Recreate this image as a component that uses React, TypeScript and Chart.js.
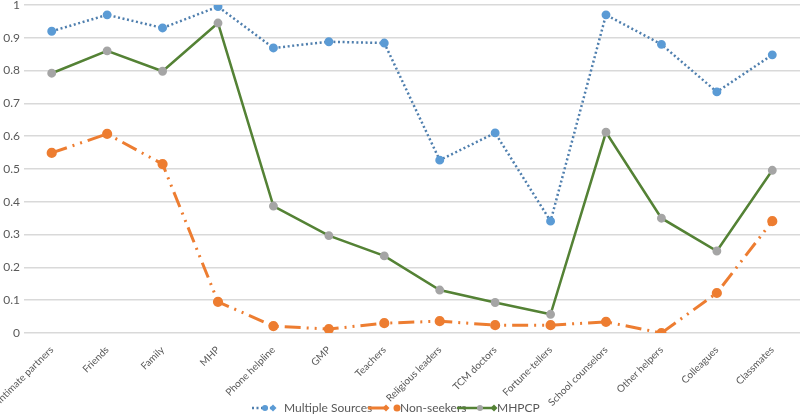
import React, { useEffect, useRef } from "react";
import { Chart, registerables } from "chart.js";

Chart.register(...registerables);

const categories = [
  "Intimate partners", "Friends", "Family", "MHP", "Phone helpline", "GMP", "Teachers",
  "Religious leaders", "TCM doctors", "Fortune-tellers", "School counselors", "Other helpers",
  "Colleagues", "Classmates",
];
const multipleSources = [0.92, 0.97, 0.93, 0.995, 0.869, 0.888, 0.884, 0.527, 0.61, 0.341, 0.97, 0.88, 0.735, 0.848];
const nonSeekers = [0.549, 0.607, 0.515, 0.095, 0.021, 0.012, 0.03, 0.036, 0.024, 0.024, 0.034, 0.0, 0.122, 0.341];
const mhpcp = [0.792, 0.86, 0.798, 0.945, 0.387, 0.297, 0.235, 0.131, 0.093, 0.057, 0.612, 0.35, 0.25, 0.496];
const yTicks = [0, 0.1, 0.2, 0.3, 0.4, 0.5, 0.6, 0.7, 0.8, 0.9, 1];

const BLUE_LINE = "#4f7fae";
const BLUE_PT = "#5b9bd5";
const ORANGE = "#ed7d31";
const GREEN = "#548235";
const GRAY_PT = "#a5a5a5";
const TEXT = "#595959";
const FONT = "Lato, 'Open Sans', sans-serif";

function diamond(ctx: CanvasRenderingContext2D, x: number, y: number, r: number, color: string) {
  ctx.save();
  ctx.fillStyle = color;
  ctx.beginPath();
  ctx.moveTo(x + r, y);
  ctx.lineTo(x, y - r);
  ctx.lineTo(x - r, y);
  ctx.lineTo(x, y + r);
  ctx.closePath();
  ctx.fill();
  ctx.restore();
}
function dot(ctx: CanvasRenderingContext2D, x: number, y: number, r: number, color: string) {
  ctx.save();
  ctx.fillStyle = color;
  ctx.beginPath();
  ctx.arc(x, y, r, 0, Math.PI * 2);
  ctx.fill();
  ctx.restore();
}

const legendPlugin = {
  id: "customLegend",
  afterDraw(chart: any) {
    const ctx: CanvasRenderingContext2D = chart.ctx;
    const y = 408;
    ctx.save();
    ctx.font = `12px ${FONT}`;
    ctx.textBaseline = "middle";
    ctx.fillStyle = TEXT;
    ctx.strokeStyle = BLUE_LINE;
    ctx.lineWidth = 2.5;
    ctx.setLineDash([2, 2.5]);
    ctx.beginPath();
    ctx.moveTo(252, y);
    ctx.lineTo(272, y);
    ctx.stroke();
    ctx.setLineDash([]);
    dot(ctx, 265, y, 3, BLUE_PT);
    diamond(ctx, 273, y, 3.5, BLUE_PT);
    ctx.fillStyle = TEXT;
    ctx.fillText("Multiple Sources", 284, y);
    ctx.strokeStyle = ORANGE;
    ctx.lineWidth = 3;
    ctx.beginPath();
    ctx.moveTo(368, y);
    ctx.lineTo(386, y);
    ctx.stroke();
    diamond(ctx, 386, y, 3.5, ORANGE);
    dot(ctx, 397, y, 3.5, ORANGE);
    ctx.fillStyle = TEXT;
    ctx.fillText("Non-seekers", 400, y);
    ctx.strokeStyle = GREEN;
    ctx.lineWidth = 2.5;
    ctx.beginPath();
    ctx.moveTo(457, y);
    ctx.lineTo(494, y);
    ctx.stroke();
    dot(ctx, 480, y, 3, GRAY_PT);
    diamond(ctx, 494, y, 3.5, GREEN);
    ctx.fillStyle = TEXT;
    ctx.fillText("MHPCP", 497, y);
    ctx.restore();
  },
};

export default function App() {
  const ref = useRef<HTMLCanvasElement | null>(null);
  useEffect(() => {
    document.body.style.margin = "0";
    const canvas = ref.current!;
    const chart = new Chart(canvas, {
      type: "line",
      data: {
        labels: categories,
        datasets: [
          {
            label: "Multiple Sources",
            data: multipleSources,
            borderColor: BLUE_LINE,
            borderWidth: 2.5,
            borderDash: [2, 2.6],
            pointBackgroundColor: BLUE_PT,
            pointBorderColor: BLUE_PT,
            pointRadius: 3.2,
            tension: 0,
          },
          {
            label: "Non-seekers",
            data: nonSeekers,
            borderColor: ORANGE,
            borderWidth: 3,
            borderDash: [16, 6, 2, 6, 2, 6],
            pointBackgroundColor: ORANGE,
            pointBorderColor: ORANGE,
            pointRadius: 3.6,
            tension: 0,
          },
          {
            label: "MHPCP",
            data: mhpcp,
            borderColor: GREEN,
            borderWidth: 2.5,
            pointBackgroundColor: GRAY_PT,
            pointBorderColor: GRAY_PT,
            pointRadius: 3.2,
            tension: 0,
          },
        ],
      },
      options: {
        animation: false,
        responsive: false,
        layout: { autoPadding: false, padding: { top: 5, left: 0, right: 0, bottom: 0 } },
        plugins: { legend: { display: false }, tooltip: { enabled: false } },
        scales: {
          x: {
            offset: true,
            grid: { display: false },
            border: { display: false },
            ticks: {
              color: TEXT,
              font: { family: FONT, size: 10 },
              minRotation: 45,
              maxRotation: 45,
              autoSkip: false,
              padding: 3,
            },
            afterFit: (s: any) => {
              s.height = 416 - 333;
              s.paddingLeft = 0;
              s.paddingRight = 0;
            },
          },
          y: {
            min: 0,
            max: 1,
            afterBuildTicks: (s: any) => {
              s.ticks = yTicks.map((v) => ({ value: v }));
            },
            ticks: {
              color: TEXT,
              font: { family: FONT, size: 12 },
              padding: 4,
              callback: (v: any) => String(Math.round(Number(v) * 10) / 10),
            },
            grid: { color: "#d9d9d9", lineWidth: 1.5, drawTicks: false },
            border: { display: false },
            afterFit: (s: any) => {
              s.width = 24;
              s.paddingTop = 0;
              s.paddingBottom = 0;
            },
          },
        },
      },
      plugins: [legendPlugin],
    });
    return () => chart.destroy();
  }, []);
  return <canvas ref={ref} width={800} height={416} style={{ display: "block" }} />;
}
